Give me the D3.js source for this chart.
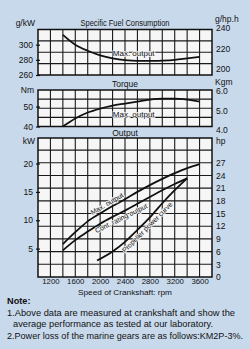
<!DOCTYPE html>
<html>
<head>
<meta charset="utf-8">
<script src="https://cdn.jsdelivr.net/npm/d3@7/dist/d3.min.js"></script>
<style>
  body { margin: 0; background: #c8d9ec; }
  svg text { font-family: "Liberation Sans", Arial, sans-serif; fill: #111; }
</style>
</head>
<body>
<svg id="chart" width="250" height="349"></svg>
<script>
// values
var rpmTicks = [1200, 1600, 2000, 2400, 2800, 3200, 3600];
var rpm = [1400, 1600, 1800, 2000, 2200, 2400, 2600, 2800, 3000, 3200, 3400, 3600];
var fuelGkW = [313, 300, 292, 286, 282, 279.5, 278.5, 278.5, 279, 280, 282, 284];
var torqueNm = [40, 44, 47, 49, 50.5, 51.5, 52.5, 53.5, 54, 54, 53.5, 52.5];
var maxKW = [5.8, 7.9, 9.8, 11.2, 12.5, 13.7, 15.0, 16.2, 17.3, 18.3, 19.2, 19.9];
var contRpm = [1400, 1600, 1800, 2000, 2200, 2400, 2600, 2800, 3000, 3200, 3400];
var contKW = [4.7, 6.5, 8.0, 9.4, 10.6, 11.7, 12.9, 14.1, 15.3, 16.4, 17.4];
var propRpm = [1950, 2200, 2400, 2600, 2800, 3000, 3200, 3400];
var propKW = [2.9, 4.5, 6.2, 8.3, 10.5, 13.0, 15.3, 17.4];

var fuelTicks = [260, 280, 300];
var gphTicks = [200, 220, 240];
var torqueTicks = [40, 50];
var kgmTicks = [4.0, 5.0, 6.0];
var kwTicks = [5, 10, 15, 20];
var hpTicks = [0, 3, 6, 9, 12, 15, 18, 21, 24, 27];

var svg = d3.select("#chart");
var x = d3.scaleLinear().domain([1000, 3800]).range([38, 212]);

var yFuel = d3.scaleLinear().domain([260, 320]).range([75, 29.5]);
var yGph = d3.scaleLinear().domain([260 / 1.341, 320 / 1.341]).range([75, 29.5]);
var yTorque = d3.scaleLinear().domain([40, 58.3]).range([126.5, 90]);
var yKgm = d3.scaleLinear().domain([40 / 9.807, 58.3 / 9.807]).range([126.5, 90]);
var yKW = d3.scaleLinear().domain([0, 24.5]).range([277, 138]);
var yHp = d3.scaleLinear().domain([0, 24.5 / 0.7457]).range([277, 138]);

var fs = 8.5;

function drawPanel(y0, y1, rowYs) {
  var g = svg.append("g");
  g.append("rect")
    .attr("x", x.range()[0]).attr("y", y0)
    .attr("width", x.range()[1] - x.range()[0]).attr("height", y1 - y0)
    .attr("fill", "#f6f6f6");
  g.selectAll(".v").data(d3.range(1200, 3800, 200)).enter().append("line")
    .attr("x1", function (d) { return x(d); }).attr("x2", function (d) { return x(d); })
    .attr("y1", y0).attr("y2", y1)
    .attr("stroke", "#1a1a1a").attr("stroke-width", 1.1);
  g.selectAll(".h").data(rowYs).enter().append("line")
    .attr("x1", x.range()[0]).attr("x2", x.range()[1])
    .attr("y1", function (d) { return d; }).attr("y2", function (d) { return d; })
    .attr("stroke", "#1a1a1a").attr("stroke-width", 1.1);
  g.append("rect")
    .attr("x", x.range()[0]).attr("y", y0)
    .attr("width", x.range()[1] - x.range()[0]).attr("height", y1 - y0)
    .attr("fill", "none").attr("stroke", "#111").attr("stroke-width", 1.5);
  return g;
}

function leftAxis(scale, ticks, fmt) {
  var g = svg.append("g")
    .attr("transform", "translate(" + x.range()[0] + ",0)")
    .call(d3.axisLeft(scale).tickValues(ticks).tickSizeInner(4).tickSizeOuter(0).tickPadding(1).tickFormat(fmt || d3.format("d")));
  g.select(".domain").remove();
  g.selectAll("line").attr("stroke", "#111").attr("stroke-width", 1.2).attr("transform", "translate(2,0)");
  g.selectAll("text").attr("font-size", fs).attr("font-family", null).attr("fill", "#111");
}

function rightAxis(scale, ticks, fmt, shift) {
  var g = svg.append("g")
    .attr("transform", "translate(" + x.range()[1] + "," + (shift || 0) + ")")
    .call(d3.axisRight(scale).tickValues(ticks).tickSize(0).tickPadding(4).tickFormat(fmt || d3.format("d")));
  g.select(".domain").remove();
  g.selectAll("text").attr("font-size", fs).attr("font-family", null).attr("fill", "#111");
}

function curve(xs, ys, yScale) {
  var pts = xs.map(function (d, i) { return [d, ys[i]]; });
  svg.append("path")
    .datum(pts)
    .attr("fill", "none").attr("stroke", "#111").attr("stroke-width", 1.8)
    .attr("d", d3.line()
      .x(function (d) { return x(d[0]); })
      .y(function (d) { return yScale(d[1]); })
      .curve(d3.curveMonotoneX));
}

function label(str, px, py, size, angle, dy) {
  svg.append("text")
    .attr("transform", "translate(" + px + "," + py + ")rotate(" + (angle || 0) + ")")
    .attr("dy", dy || 0)
    .attr("text-anchor", "middle")
    .attr("font-size", size)
    .attr("stroke", "#f6f6f6").attr("stroke-width", 1.6).attr("paint-order", "stroke")
    .text(str);
}

// label that follows a curve at a given rpm
function alongLabel(str, xs, ys, yScale, at, size, dy) {
  var i = d3.bisectRight(xs, at) - 1;
  i = Math.max(0, Math.min(i, xs.length - 2));
  var t = (at - xs[i]) / (xs[i + 1] - xs[i]);
  var v = ys[i] + t * (ys[i + 1] - ys[i]);
  var ang = Math.atan2(yScale(ys[i + 1]) - yScale(ys[i]), x(xs[i + 1]) - x(xs[i])) * 180 / Math.PI;
  label(str, x(at), yScale(v), size, ang, dy);
}

// ---- Specific fuel consumption ----
drawPanel(yFuel.range()[1], yFuel.range()[0], d3.range(1, 4).map(function (i) { return 29.5 + i * (75 - 29.5) / 4; }));
leftAxis(yFuel, fuelTicks);
rightAxis(yGph, gphTicks);
curve(rpm, fuelGkW, yFuel);
svg.append("text").attr("x", 125).attr("y", 26).attr("text-anchor", "middle").attr("font-size", fs)
  .attr("textLength", 89).attr("lengthAdjust", "spacingAndGlyphs").text("Specific Fuel Consumption");
svg.append("text").attr("x", 35).attr("y", 26).attr("text-anchor", "end").attr("font-size", fs).text("g/kW");
svg.append("text").attr("x", 215).attr("y", 22).attr("font-size", fs).text("g/hp.h");
label("Max. output", x(2540), yFuel(279) - 4.5, 8, 0);

// ---- Torque ----
drawPanel(yTorque.range()[1], yTorque.range()[0], d3.range(1, 4).map(function (i) { return 90 + i * (126.5 - 90) / 4; }));
leftAxis(yTorque, torqueTicks);
rightAxis(yKgm, kgmTicks, d3.format(".1f"), 2);
curve(rpm, torqueNm, yTorque);
svg.append("text").attr("x", 125).attr("y", 87).attr("text-anchor", "middle").attr("font-size", fs).text("Torque");
svg.append("text").attr("x", 34).attr("y", 93).attr("text-anchor", "end").attr("font-size", fs).text("Nm");
svg.append("text").attr("x", 215).attr("y", 85).attr("font-size", fs).text("Kgm");
label("Max. output", x(2540), yTorque(52.2) + 15, 8, 0);

// ---- Output ----
drawPanel(yKW.range()[1], yKW.range()[0], d3.range(3, 33, 3).map(yHp));
leftAxis(yKW, kwTicks);
rightAxis(yHp, hpTicks);
curve(rpm, maxKW, yKW);
curve(contRpm, contKW, yKW);
curve(propRpm, propKW, yKW);
svg.append("text").attr("x", 125).attr("y", 136).attr("text-anchor", "middle").attr("font-size", fs).text("Output");
svg.append("text").attr("x", 35).attr("y", 144).attr("text-anchor", "end").attr("font-size", fs).text("kW");
svg.append("text").attr("x", 216).attr("y", 144).attr("font-size", fs).text("hp");
alongLabel("Max. output", rpm, maxKW, yKW, 2150, 7, -2.5);
alongLabel("Cont. rating output", contRpm, contKW, yKW, 2300, 7, 7.5);
alongLabel("Propeller power curve", propRpm, propKW, yKW, 2700, 7, 7.5);

// x axis
var xa = svg.append("g")
  .attr("transform", "translate(0," + yKW.range()[0] + ")")
  .call(d3.axisBottom(x).tickValues(rpmTicks).tickSize(0).tickPadding(1).tickFormat(d3.format("d")));
xa.select(".domain").remove();
xa.selectAll("text").attr("font-size", 7.8).attr("font-family", null).attr("fill", "#111");
svg.append("text").attr("x", 125).attr("y", 294.5).attr("text-anchor", "middle").attr("font-size", 7.6)
  .attr("textLength", 94).attr("lengthAdjust", "spacingAndGlyphs").text("Speed of Crankshaft: rpm");

// notes
svg.append("text").attr("x", 7).attr("y", 304).attr("font-size", 9.2).attr("font-weight", "bold").text("Note:");
svg.append("text").attr("x", 7).attr("y", 316).attr("font-size", 8.8)
  .attr("textLength", 228).attr("lengthAdjust", "spacingAndGlyphs")
  .text("1.Above data are measured at crankshaft and show the");
svg.append("text").attr("x", 13).attr("y", 327).attr("font-size", 8.8)
  .attr("textLength", 200).attr("lengthAdjust", "spacingAndGlyphs")
  .text("average performance as tested at our laboratory.");
svg.append("text").attr("x", 7).attr("y", 339).attr("font-size", 8.8)
  .attr("textLength", 236).attr("lengthAdjust", "spacingAndGlyphs")
  .text("2.Power loss of the marine gears are as follows:KM2P-3%.");
</script>
</body>
</html>
